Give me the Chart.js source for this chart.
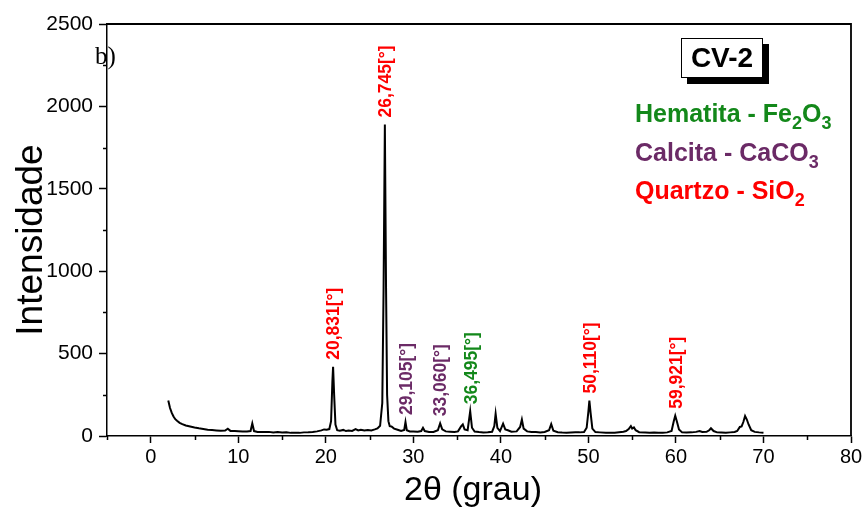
<!DOCTYPE html>
<html>
<head>
<meta charset="utf-8">
<script src="https://cdn.jsdelivr.net/npm/chart.js@4"></script>
<style>
  html, body { margin: 0; padding: 0; background: #fff; }
  #wrap { width: 867px; height: 507px; position: relative; }
</style>
</head>
<body>
<div id="wrap"><canvas id="xrd"></canvas></div>
<script>
// diffractogram (2theta, counts)
const twoTheta = [
  2.0, 2.2, 2.4, 2.6, 2.8, 3.0, 3.3, 3.6, 4.0, 4.5, 5.0, 5.5, 6.0, 6.5, 7.0, 7.5, 8.0, 8.5, 8.8, 9.1,
  9.6, 10.0, 10.5, 11.0, 11.4, 11.6, 11.8, 12.2, 12.8, 13.5, 14.0, 14.5, 15.0, 15.5, 16.0, 16.5, 17.0, 17.5,
  18.0, 18.5, 19.0, 19.5, 19.8, 20.1, 20.4, 20.6, 20.75, 20.83, 20.95, 21.1, 21.3, 21.6, 22.0, 22.3, 22.6,
  23.0, 23.4, 23.7, 24.0, 24.4, 24.8, 25.2, 25.6, 25.9, 26.2, 26.45, 26.6, 26.745, 26.88, 27.0,
  27.15, 27.3, 27.5, 27.8, 28.2, 28.6, 28.95, 29.1, 29.25, 29.6, 30.0, 30.5, 30.9, 31.1, 31.3, 31.8, 32.3,
  32.8, 33.06, 33.3, 33.7, 34.2, 34.7, 35.1, 35.45, 35.65, 35.85, 36.2, 36.495, 36.7, 37.0, 37.5, 38.0,
  38.5, 39.0, 39.25, 39.4, 39.6, 39.9, 40.25, 40.5, 40.8, 41.2, 41.8, 42.2, 42.4, 42.6, 43.0, 43.5, 44.0,
  44.5, 45.0, 45.5, 45.75, 46.0, 46.5, 47.0, 47.5, 48.0, 48.5, 49.0, 49.5, 49.8, 50.0, 50.11, 50.25, 50.45,
  50.8, 51.3, 52.0, 52.5, 53.0, 53.5, 54.0, 54.3, 54.6, 54.85, 55.0, 55.2, 55.4, 55.8, 56.5, 57.0, 57.5,
  58.0, 58.5, 59.0, 59.5, 59.75, 59.92, 60.1, 60.35, 60.7, 61.2, 61.8, 62.3, 62.7, 63.0, 63.5, 63.8, 64.0,
  64.3, 64.7, 65.2, 65.7, 66.2, 66.7, 67.0, 67.3, 67.5, 67.7, 67.9, 68.1, 68.3, 68.6, 69.0, 69.5, 70.0
];
const counts = [
  215, 170, 140, 118, 102, 92, 80, 72, 64, 58, 52, 47, 43, 38, 36, 34, 32, 33, 44, 31,
  30, 29, 28, 27, 30, 76, 30, 25, 24, 25, 22, 24, 21, 22, 19, 20, 19, 22,
  23, 25, 28, 34, 40, 38, 42, 90, 330, 420, 250, 70, 35, 32, 37, 30, 33,
  31, 42, 34, 38, 33, 36, 34, 40, 46, 62, 200, 900, 1890, 900, 250,
  90, 60, 58, 45, 38, 30, 36, 85, 35, 28, 27, 26, 30, 50, 30, 25, 24,
  35, 77, 40, 28, 26, 24, 28, 58, 70, 40, 35, 150, 50, 27, 24, 22,
  23, 26, 60, 135, 50, 30, 75, 40, 35, 26, 28, 55, 100, 45, 28, 25, 24,
  22, 24, 35, 72, 32, 23, 21, 20, 21, 22, 22, 24, 50, 150, 215, 140, 45,
  24, 22, 20, 19, 20, 23, 26, 30, 42, 60, 45, 52, 35, 23, 21, 20, 21,
  20, 20, 22, 30, 90, 123, 90, 40, 22, 21, 22, 25, 30, 24, 25, 35, 47,
  30, 22, 21, 20, 22, 24, 30, 55, 58, 85, 121, 100, 70, 35, 25, 22, 20
];

// annotated peaks
const peakNames = ["20,831[°]", "26,745[°]", "29,105[°]", "33,060[°]", "36,495[°]", "50,110[°]", "59,921[°]"];
const peakPos = [20.831, 26.745, 29.105, 33.06, 36.495, 50.11, 59.921];
const peakTop = [420, 1890, 85, 77, 150, 215, 123];
const peakPhase = ["q", "q", "c", "c", "h", "q", "q"];

const phaseColor = { h: "#13881a", c: "#6b2a66", q: "#ff0000" };
const legendRows = [
  { phase: "h", parts: [["Hematita - Fe", 0], ["2", 1], ["O", 0], ["3", 1]] },
  { phase: "c", parts: [["Calcita - CaCO", 0], ["3", 1]] },
  { phase: "q", parts: [["Quartzo - SiO", 0], ["2", 1]] }
];

const yTicks = [0, 500, 1000, 1500, 2000, 2500];
const xTicks = [0, 10, 20, 30, 40, 50, 60, 70, 80];

const FONT = "'Liberation Sans', Arial, sans-serif";

function drawSubText(ctx, x, y, parts, size) {
  let cx = x;
  parts.forEach(([t, sub]) => {
    ctx.font = `bold ${sub ? Math.round(size * 0.7) : size}px ${FONT}`;
    ctx.fillText(t, cx, sub ? y + size * 0.28 : y);
    cx += ctx.measureText(t).width;
  });
}

const decorPlugin = {
  id: "decor",
  afterDraw(chart) {
    let ctx = chart.ctx;
    let a = chart.chartArea;
    let xs = chart.scales.x, ys = chart.scales.y;
    ctx.save();

    // frame top + right
    ctx.strokeStyle = "#000";
    ctx.lineWidth = 1.8;
    ctx.beginPath();
    ctx.moveTo(a.left, a.top);
    ctx.lineTo(a.right, a.top);
    ctx.lineTo(a.right, a.bottom);
    ctx.stroke();

    // minor ticks
    ctx.lineWidth = 1.5;
    ctx.beginPath();
    for (let v = 250; v < 2500; v += 500) {
      let py = Math.round(ys.getPixelForValue(v)) + 0.5;
      ctx.moveTo(a.left - 4, py);
      ctx.lineTo(a.left, py);
    }
    for (let v = -5; v <= 75; v += 10) {
      let px = Math.round(xs.getPixelForValue(v)) + 0.5;
      ctx.moveTo(px, a.bottom);
      ctx.lineTo(px, a.bottom + 4);
    }
    ctx.stroke();

    // peak labels
    ctx.font = `bold 17.5px ${FONT}`;
    ctx.textAlign = "left";
    ctx.textBaseline = "middle";
    peakNames.forEach((name, i) => {
      let px = xs.getPixelForValue(peakPos[i]) + 1.5;
      let py = ys.getPixelForValue(peakTop[i]) - 7;
      ctx.save();
      ctx.translate(px, py);
      ctx.rotate(-Math.PI / 2);
      ctx.fillStyle = phaseColor[peakPhase[i]];
      ctx.fillText(name, 0, 0);
      ctx.restore();
    });

    // panel letter
    ctx.fillStyle = "#000";
    ctx.font = `25px 'Liberation Serif', 'Times New Roman', serif`;
    ctx.textAlign = "left";
    ctx.textBaseline = "alphabetic";
    ctx.fillText("b)", 95, 64);

    // sample tag
    ctx.fillRect(687, 44, 82, 40);
    ctx.fillStyle = "#fff";
    ctx.fillRect(681, 38, 82, 40);
    ctx.strokeStyle = "#000";
    ctx.lineWidth = 1;
    ctx.strokeRect(681.5, 38.5, 81, 39);
    ctx.fillStyle = "#000";
    ctx.font = `bold 28px ${FONT}`;
    ctx.textAlign = "center";
    ctx.textBaseline = "middle";
    ctx.fillText("CV-2", 722, 59);

    // phase legend
    ctx.textAlign = "left";
    ctx.textBaseline = "alphabetic";
    legendRows.forEach((row, i) => {
      ctx.fillStyle = phaseColor[row.phase];
      drawSubText(ctx, 635, 122 + i * 38.5, row.parts, 25);
    });

    // axis titles
    ctx.fillStyle = "#000";
    ctx.font = `34px ${FONT}`;
    ctx.textAlign = "center";
    ctx.fillText("2\u03B8 (grau)", 473, 500);
    ctx.save();
    ctx.translate(42, 240);
    ctx.rotate(-Math.PI / 2);
    ctx.font = `37px ${FONT}`;
    ctx.fillText("Intensidade", 0, 0);
    ctx.restore();

    ctx.restore();
  }
};

let ctx = document.getElementById("xrd").getContext("2d");
new Chart(ctx, {
  type: "line",
  data: {
    datasets: [{
      data: twoTheta.map((t, i) => ({ x: t, y: counts[i] })),
      borderColor: "#000",
      borderWidth: 2,
      pointRadius: 0,
      tension: 0,
      fill: false
    }]
  },
  options: {
    responsive: true,
    maintainAspectRatio: false,
    animation: false,
    layout: { padding: { top: 24, right: 16, left: 0, bottom: 0 } },
    plugins: { legend: { display: false }, tooltip: { enabled: false } },
    scales: {
      x: {
        type: "linear",
        min: -5,
        max: 80,
        afterFit: s => { s.height = 71; },
        afterBuildTicks: s => { s.ticks = xTicks.map(v => ({ value: v })); },
        ticks: { color: "#000", font: { size: 20, family: FONT }, padding: 2, maxRotation: 0, callback: v => String(v) },
        grid: { drawOnChartArea: false, tickLength: 7, tickColor: "#000", tickWidth: 1.5 },
        border: { color: "#000", width: 1.5 }
      },
      y: {
        min: 0,
        max: 2500,
        afterFit: s => { s.width = 107; },
        afterBuildTicks: s => { s.ticks = yTicks.map(v => ({ value: v })); },
        ticks: { color: "#000", font: { size: 21, family: FONT }, padding: 6, callback: v => String(v) },
        grid: { drawOnChartArea: false, tickLength: 8, tickColor: "#000", tickWidth: 1.5 },
        border: { color: "#000", width: 1.5 }
      }
    }
  },
  plugins: [decorPlugin]
});
</script>
</body>
</html>
